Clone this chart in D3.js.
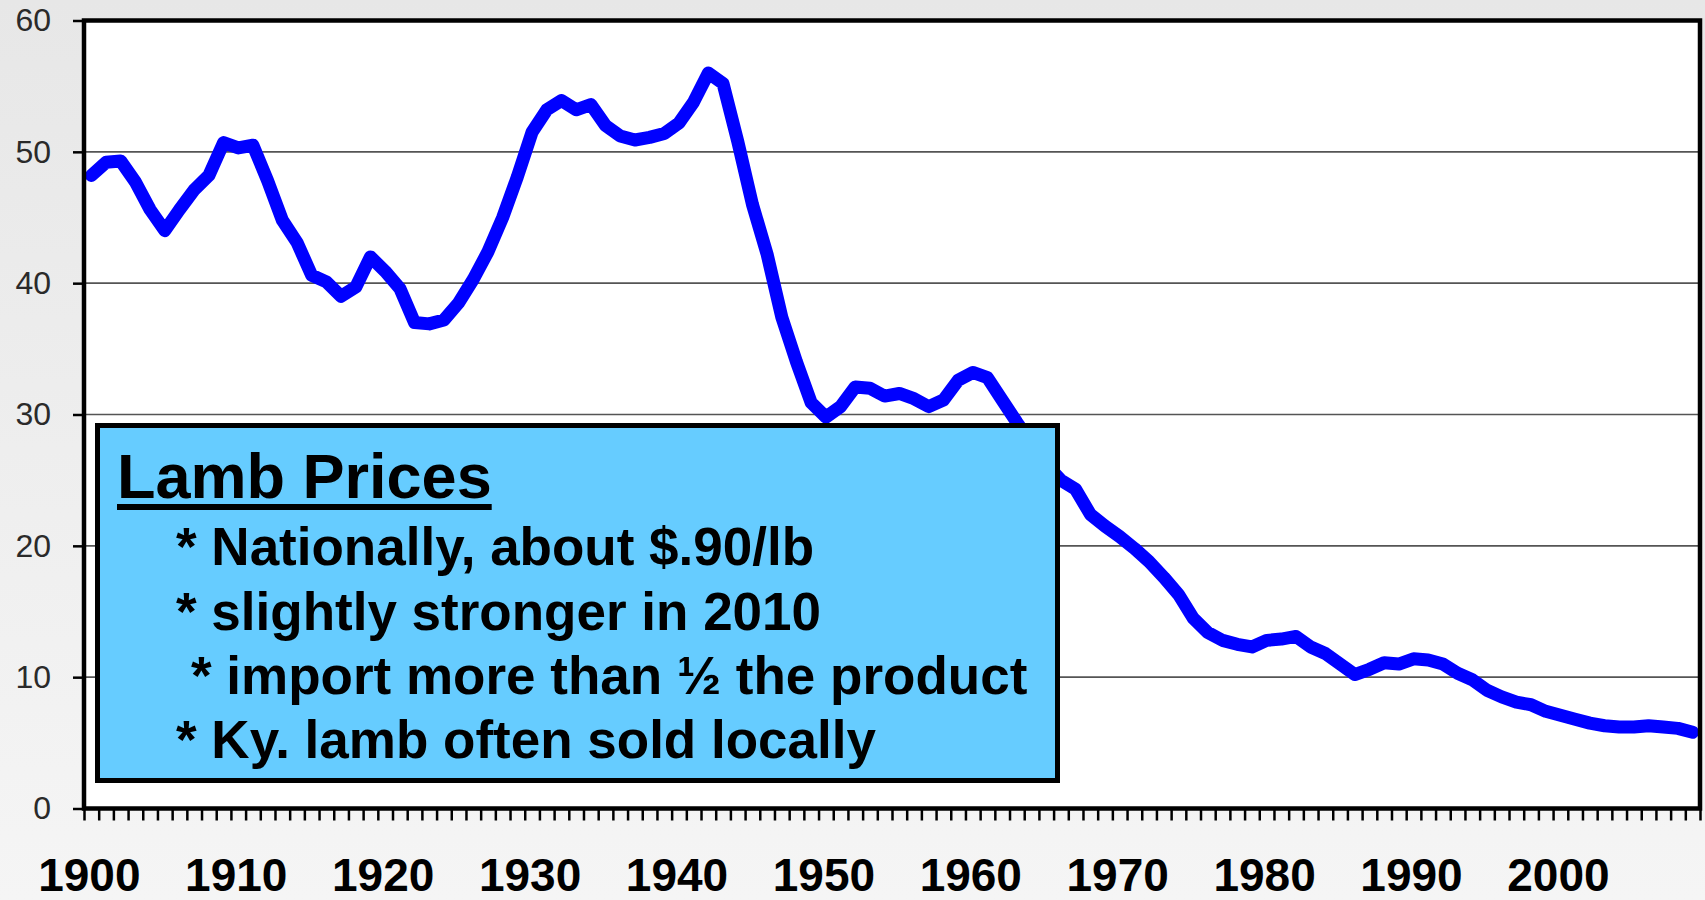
<!DOCTYPE html>
<html>
<head>
<meta charset="utf-8">
<script src="https://cdn.jsdelivr.net/npm/d3@7"></script>
<style>
  body { margin: 0; overflow: hidden; }
  svg { display: block; }
</style>
</head>
<body>
<div id="chart"></div>
<script>
// lamb price by year, 1900-2009
var years = d3.range(1900, 2010);
var prices = [
  48.2, 49.2, 49.3, 47.7, 45.6, 44.0, 45.6, 47.1, 48.2, 50.7,
  50.3, 50.5, 47.8, 44.8, 43.1, 40.6, 40.1, 39.0, 39.7, 42.0,
  40.9, 39.6, 37.0, 36.9, 37.2, 38.5, 40.3, 42.4, 45.0, 48.1,
  51.5, 53.2, 53.9, 53.2, 53.6, 52.0, 51.2, 50.9, 51.1, 51.4,
  52.2, 53.8, 56.0, 55.2, 50.8, 46.0, 42.2, 37.4, 34.0, 30.9,
  29.8, 30.6, 32.1, 32.0, 31.4, 31.6, 31.2, 30.6, 31.1, 32.6,
  33.2, 32.8, 31.1, 29.4, 27.8, 26.2, 25.0, 24.3, 22.4, 21.5,
  20.7, 19.8, 18.8, 17.6, 16.3, 14.5, 13.4, 12.8, 12.5, 12.3,
  12.8, 12.9, 13.1, 12.3, 11.8, 11.0, 10.2, 10.6, 11.1, 11.0,
  11.4, 11.3, 11.0, 10.3, 9.8, 9.0, 8.5, 8.1, 7.9, 7.4,
  7.1, 6.8, 6.5, 6.3, 6.2, 6.2, 6.3, 6.2, 6.1, 5.8
];
var yTicks = [0, 10, 20, 30, 40, 50, 60];
var decadeLabels = [1900, 1910, 1920, 1930, 1940, 1950, 1960, 1970, 1980, 1990, 2000];

var boxTitle = "Lamb Prices";
var boxLines = [
  "* Nationally, about $.90/lb",
  "* slightly stronger in 2010",
  "* import more than \u00bd the product",
  "* Ky. lamb often sold locally"
];

var W = 1705, H = 900;
var plot = {left: 84, right: 1700, top: 20.5, bottom: 808.5};

var svg = d3.select("#chart").append("svg")
  .attr("width", W)
  .attr("height", H);

var defs = svg.append("defs");
var grad = defs.append("linearGradient")
  .attr("id", "bg")
  .attr("x1", 0).attr("y1", 0).attr("x2", 0).attr("y2", 1);
grad.append("stop").attr("offset", "0%").attr("stop-color", "#e7e7e7");
grad.append("stop").attr("offset", "100%").attr("stop-color", "#f5f5f5");

svg.append("rect")
  .attr("width", W).attr("height", H)
  .attr("fill", "url(#bg)");

var x = d3.scaleLinear().domain([1900, 2010]).range([plot.left, plot.right]);
var y = d3.scaleLinear().domain([0, 60]).range([plot.bottom, plot.top]);

// plot area
svg.append("rect")
  .attr("x", plot.left).attr("y", plot.top)
  .attr("width", plot.right - plot.left).attr("height", plot.bottom - plot.top)
  .attr("fill", "#fff");

// gridlines
svg.append("g")
  .selectAll("line")
  .data(yTicks.filter(function(d){ return d > 0 && d < 60; }))
  .enter()
  .append("line")
  .attr("x1", plot.left).attr("x2", plot.right)
  .attr("y1", function(d){ return y(d); })
  .attr("y2", function(d){ return y(d); })
  .attr("stroke", "#555")
  .attr("stroke-width", 1.6);

// the price line
var line = d3.line()
  .x(function(d, i){ return x(years[i] + 0.5); })
  .y(function(d){ return y(d); });

svg.append("path")
  .datum(prices)
  .attr("d", line)
  .attr("fill", "none")
  .attr("stroke", "#0000ff")
  .attr("stroke-width", 13)
  .attr("stroke-linejoin", "round")
  .attr("stroke-linecap", "round");

// frame
svg.append("rect")
  .attr("x", plot.left).attr("y", plot.top)
  .attr("width", plot.right - plot.left).attr("height", plot.bottom - plot.top)
  .attr("fill", "none")
  .attr("stroke", "#000")
  .attr("stroke-width", 4.5);

// y axis
var yAxis = d3.axisLeft(y)
  .tickValues(yTicks)
  .tickSize(11)
  .tickPadding(22);

var gy = svg.append("g")
  .attr("transform", "translate(" + plot.left + ",0)")
  .call(yAxis);
gy.select(".domain").remove();
gy.selectAll(".tick line").attr("stroke", "#000").attr("stroke-width", 2.5);
gy.selectAll(".tick text")
  .attr("font-family", "'Liberation Sans', Arial, sans-serif")
  .attr("font-size", 32)
  .attr("fill", "#2a2a2a");

// x axis, one tick for each year boundary
var xAxis = d3.axisBottom(x)
  .tickValues(d3.range(1900, 2011))
  .tickSize(12)
  .tickFormat("");

var gx = svg.append("g")
  .attr("transform", "translate(0," + plot.bottom + ")")
  .call(xAxis);
gx.select(".domain").remove();
gx.selectAll(".tick line").attr("stroke", "#000").attr("stroke-width", 2.5);

svg.append("g")
  .selectAll("text")
  .data(decadeLabels)
  .enter()
  .append("text")
  .attr("x", function(d){ return x(d + 0.5) - 2; })
  .attr("y", 891)
  .attr("text-anchor", "middle")
  .attr("font-family", "'Liberation Sans', Arial, sans-serif")
  .attr("font-weight", "bold")
  .attr("font-size", 46)
  .attr("fill", "#000")
  .text(function(d){ return d; });

// note box
var box = svg.append("g");
box.append("rect")
  .attr("x", 97.5).attr("y", 425.5)
  .attr("width", 960).attr("height", 355)
  .attr("fill", "#66ccff")
  .attr("stroke", "#000")
  .attr("stroke-width", 5);

var title = box.append("text")
  .attr("x", 117)
  .attr("y", 498)
  .attr("font-family", "'Liberation Sans', Arial, sans-serif")
  .attr("font-weight", "bold")
  .attr("font-size", 63)
  .attr("fill", "#000")
  .text(boxTitle);

var tw = title.node().getComputedTextLength();
box.append("rect")
  .attr("x", 117).attr("y", 504)
  .attr("width", tw).attr("height", 6)
  .attr("fill", "#000");

var lineX = [176, 176, 191, 176];
var lineY = [565, 630, 694, 758];
box.selectAll("text.note")
  .data(boxLines)
  .enter()
  .append("text")
  .attr("class", "note")
  .attr("x", function(d, i){ return lineX[i]; })
  .attr("y", function(d, i){ return lineY[i]; })
  .attr("font-family", "'Liberation Sans', Arial, sans-serif")
  .attr("font-weight", "bold")
  .attr("font-size", 53)
  .attr("fill", "#000")
  .text(function(d){ return d; });
</script>
</body>
</html>
